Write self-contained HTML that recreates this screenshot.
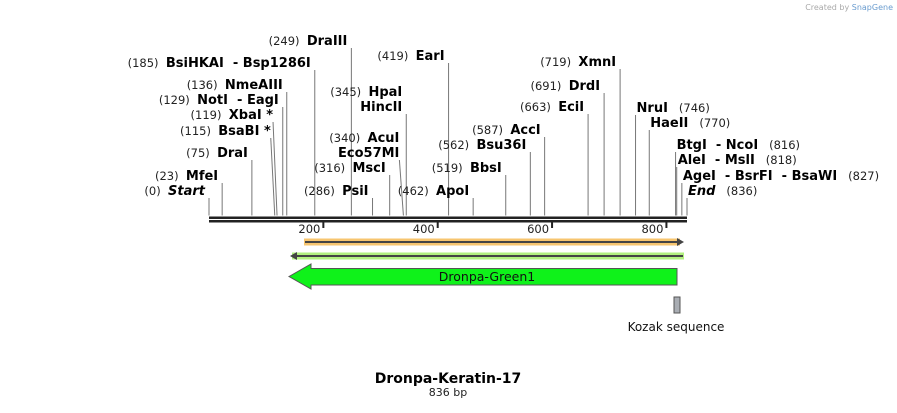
<!DOCTYPE html>
<html><head><meta charset="utf-8"><style>
body{margin:0;background:#fff;width:897px;height:408px;overflow:hidden}
svg{font-family:"DejaVu Sans","Liberation Sans",sans-serif}
.n{font-size:11.5px;fill:#222}
.b{font-size:13px;font-weight:bold;fill:#000}
</style></head><body>
<svg id="map" width="897" height="408" viewBox="0 0 897 408" xmlns="http://www.w3.org/2000/svg">
<text x="893" y="10" font-size="8" fill="#aaa" text-anchor="end">Created by <tspan fill="#6a9ccf">SnapGene</tspan></text>
<g id="sites"></g>
<g id="axis"></g>
<line x1="304" y1="242" x2="680" y2="242" stroke="#f7c56f" stroke-width="7"/>
<line x1="305" y1="242" x2="678" y2="242" stroke="#444" stroke-width="2"/>
<polygon points="677,238 684,242 677,246" fill="#444"/>
<line x1="292" y1="256" x2="684" y2="256" stroke="#b2f07f" stroke-width="7"/>
<line x1="296" y1="256" x2="683" y2="256" stroke="#444" stroke-width="2"/>
<polygon points="297,252 290,256 297,260" fill="#444"/>
<polygon points="289,276.5 311,264 311,268.5 677,268.5 677,285 311,285 311,289" fill="#0ff21a" stroke="#555" stroke-width="1"/>
<text x="487" y="281" font-size="12.5" text-anchor="middle" fill="#111">Dronpa-Green1</text>
<rect x="674" y="297" width="6" height="16" fill="#a9adb3" stroke="#555" stroke-width="1"/>
<text x="676" y="331" font-size="12" text-anchor="middle" fill="#111">Kozak sequence</text>
<text x="448" y="383" font-size="14" font-weight="bold" text-anchor="middle" fill="#000">Dronpa-Keratin-17</text>
<text x="448" y="396" font-size="11" text-anchor="middle" fill="#222">836 bp</text>
</svg>
<script>
const seqLength = 836;
const tickValues = [200, 400, 600, 800];
const sitePos = [0,23,75,115,119,129,136,185,249,286,316,340,345,419,462,519,562,587,663,691,719,746,770,816,818,827,836];
const siteNames = ["Start","MfeI","DraI","BsaBI *","XbaI *","NotI  - EagI","NmeAIII","BsiHKAI  - Bsp1286I","DraIII","PsiI","MscI","AcuI\nEco57MI","HpaI\nHincII","EarI","ApoI","BbsI","Bsu36I","AccI","EciI","DrdI","XmnI","NruI","HaeII","BtgI  - NcoI","AleI  - MslI","AgeI  - BsrFI  - BsaWI","End"];
const labelY = [195,180,157,135,119,104,89,67,45,195,172,157,111,60,195,172,149,134,111,90,66,112,127,149,164,180,195];
const labelRight = [0,0,0,0,0,0,0,0,0,0,0,0,0,0,0,0,0,0,0,0,0,1,1,1,1,1,1];
const NS="http://www.w3.org/2000/svg";
const x0=209,x1=687;
function xs(v){return x0+(x1-x0)*v/seqLength;}
function mk(t,a,p){const e=document.createElementNS(NS,t);for(const k in a)e.setAttribute(k,a[k]);p.appendChild(e);return e;}
const axis=document.getElementById('axis'), sites=document.getElementById('sites');
const bb1=mk('rect',{x:x0,y:216.5,width:x1-x0,height:2.5,fill:'#222'},axis);


const bb2=mk('rect',{x:x0,y:220,width:x1-x0,height:2.5,fill:'#222'},axis);


tickValues.forEach(v=>{
  const x=xs(v);
  const t=mk('rect',{x:x-1,y:222,width:2,height:6,fill:'#222'},axis);
  
  
  const l=mk('text',{x:x-3,y:233,'font-size':11.5,'text-anchor':'end',fill:'#222'},axis);
  l.textContent=v;
  
  
});
sitePos.forEach((p,i)=>{
  const x=xs(p), y=labelY[i];
  const g=mk('g',{},sites);
  
  
  const lines=siteNames[i].split('\n');
  const ly=y+3;
  const slant=(p===115||p===119||p===340)?-4:0;
  mk('line',{x1:x+slant,y1:ly,x2:x,y2:215.5,stroke:'#777','stroke-width':1},g);
  const italic=(siteNames[i]==='Start'||siteNames[i]==='End');
  if(!labelRight[i]){
    const endX=x-4;
    lines.forEach((s,k)=>{
      const yy=y-(lines.length-1-k)*15;
      const t=mk('text',{x:endX,y:yy,'text-anchor':'end'},g);
      if(k===0){const n=mk('tspan',{class:'n'},t);n.textContent='('+p+')\u00a0\u00a0';}
      const b=mk('tspan',{class:'b','font-style':italic?'italic':'normal'},t);
      b.textContent=s.replace(/ {2}/g,'\u00a0\u00a0');
    });
  } else {
    const t=mk('text',{x:x+1,y:y},g);
    const b=mk('tspan',{class:'b','font-style':italic?'italic':'normal'},t);
    b.textContent=lines[0].replace(/ {2}/g,'\u00a0\u00a0');
    const n=mk('tspan',{class:'n'},t);n.textContent='\u00a0\u00a0\u00a0('+p+')';
  }
});
</script>
</body></html>
